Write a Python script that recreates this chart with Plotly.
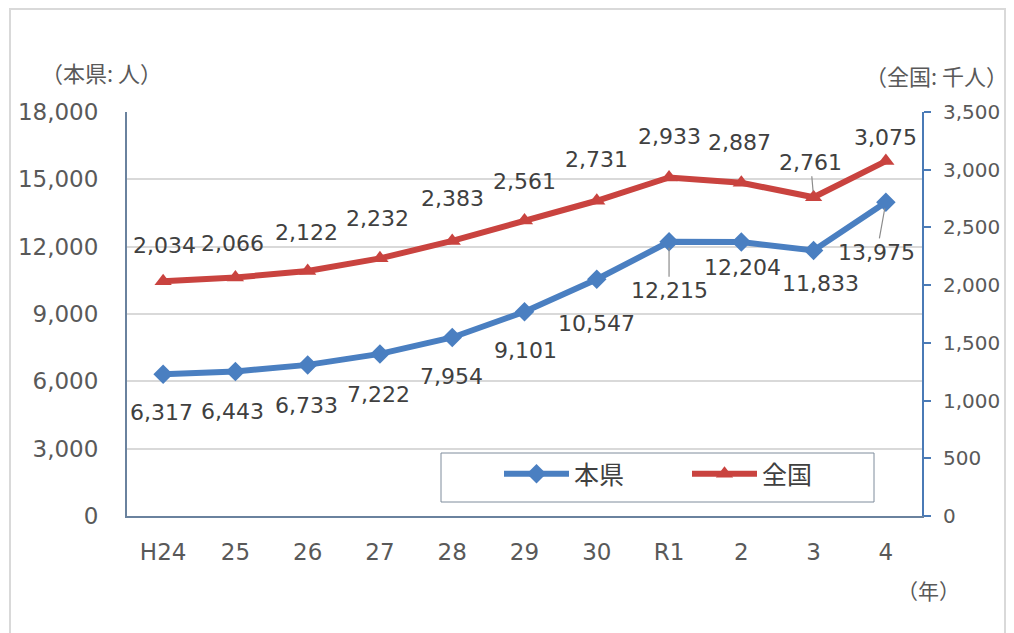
import plotly.graph_objects as go

# ---- data ----
categories = ["H24", "25", "26", "27", "28", "29", "30", "R1", "2", "3", "4"]
honken = [6317, 6443, 6733, 7222, 7954, 9101, 10547, 12215, 12204, 11833, 13975]
zenkoku = [2034, 2066, 2122, 2232, 2383, 2561, 2731, 2933, 2887, 2761, 3075]

# label offsets (pixels: dx, dy-up, leader line)
blue_off = [(-2, -38, 0), (-3, -40, 0), (-1, -41, 0), (-1, -41, 0), (-1, -39, 0), (1, -39, 0),
            (0, -44, 0), (0, -49, 1), (1, -25, 0), (7, -33, 0), (-9, -50, 1)]
red_off = [(1, 36, 0), (-3, 34, 0), (-1, 39, 0), (-2, 40, 0), (0, 42, 0), (0, 39, 0),
           (0, 41, 0), (0, 41, 0), (-2, 40, 0), (-3, 35, 1), (0, 24, 0)]

BLUE = "#4a7fc1"
RED = "#c9433f"
NUMFONT = "DejaVu Sans, Noto Sans CJK JP, sans-serif"
CJKFONT = "Noto Sans CJK JP, sans-serif"

OFF = 8  # page body margin
W, H = 1014 - OFF, 633 - OFF
L, T, PW, PH = 127 - OFF, 112 - OFF, 795, 404
R = W - L - PW
B = H - T - PH


def px_to_paper_x(px):
    return (px - OFF - L) / PW


def px_to_paper_y(py):
    return (T + PH - (py - OFF)) / PH


fig = go.Figure()
fig.add_trace(go.Scatter(
    x=categories, y=honken, name="本県", mode="lines+markers",
    line=dict(color=BLUE, width=6),
    marker=dict(symbol="diamond", size=15, color=BLUE),
    yaxis="y"))
fig.add_trace(go.Scatter(
    x=categories, y=zenkoku, name="全国", mode="lines+markers",
    line=dict(color=RED, width=6),
    marker=dict(symbol="triangle-up", size=15, color=RED),
    yaxis="y2"))

annos = []


def add_labels(values, offsets, yref):
    for i, (v, (dx, dy, lead)) in enumerate(zip(values, offsets)):
        a = dict(x=i, y=v, xref="x", yref=yref, text=f"{v:,}",
                 font=dict(family=NUMFONT, size=22, color="#404040"))
        if lead:
            a.update(showarrow=True, arrowhead=0, arrowwidth=1.2, arrowcolor="#8c8c8c",
                     ax=dx, ay=-dy, standoff=6)
        else:
            a.update(showarrow=False, xshift=dx, yshift=dy)
        annos.append(a)


add_labels(honken, blue_off, "y")
add_labels(zenkoku, red_off, "y2")


def title(text, px, py, size):
    return dict(x=px_to_paper_x(px), y=px_to_paper_y(py), xref="paper", yref="paper",
                xanchor="center", yanchor="middle", text=text, showarrow=False,
                font=dict(family=CJKFONT, size=size, color="#595959"))


annos += [
    title("（本県: 人）", 101, 72, 22),
    title("（全国: 千人）", 936, 75, 22),
    title("（年）", 928, 590, 21),
]

shapes = [
    dict(type="rect", xref="paper", yref="paper",
         x0=px_to_paper_x(10), x1=px_to_paper_x(1005),
         y0=px_to_paper_y(645), y1=px_to_paper_y(9),
         line=dict(color="#d9d9d9", width=2), layer="below"),
    dict(type="rect", xref="paper", yref="paper",
         x0=px_to_paper_x(441), x1=px_to_paper_x(874),
         y0=px_to_paper_y(502), y1=px_to_paper_y(453),
         line=dict(color="#7f8c9c", width=1), fillcolor="white", layer="below"),
]

fig.update_layout(
    width=W, height=H, autosize=False,
    margin=dict(l=L, r=R, t=T, b=B, autoexpand=False),
    paper_bgcolor="white", plot_bgcolor="white",
    font=dict(family=NUMFONT, size=22, color="#595959"),
    showlegend=True,
    legend=dict(orientation="h", x=px_to_paper_x(499), y=px_to_paper_y(474),
                xanchor="left", yanchor="middle",
                bgcolor="rgba(0,0,0,0)", borderwidth=0,
                font=dict(family=CJKFONT, size=25, color="#404040"),
                entrywidth=108, entrywidthmode="pixels", itemwidth=65),
    xaxis=dict(type="category", range=[-0.5, 10.5], showline=True,
               linecolor="#6a829e", linewidth=2, showgrid=False, ticks="",
               ticklabelstandoff=14, tickfont=dict(family=NUMFONT, size=23, color="#595959")),
    yaxis=dict(range=[0, 18000], dtick=3000, tickformat=",", showline=True,
               linecolor="#6a829e", linewidth=2, gridcolor="#d9d9d9", gridwidth=1.5,
               ticks="", ticklabelstandoff=22, zeroline=False,
               tickfont=dict(family=NUMFONT, size=23, color="#595959")),
    yaxis2=dict(range=[0, 3500], dtick=500, tickformat=",", overlaying="y", side="right",
                showline=True, linecolor="#4a7ab6", linewidth=2, showgrid=False,
                ticks="outside", ticklen=7, tickcolor="#4a7ab6", tickwidth=2,
                ticklabelstandoff=8, zeroline=False,
                tickfont=dict(family=NUMFONT, size=20, color="#595959")),
    annotations=annos, shapes=shapes,
)

fig.write_html("out.html")
